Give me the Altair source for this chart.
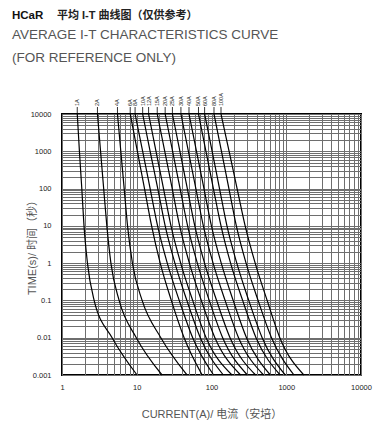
import altair as alt
import pandas as pd

TIMES = [10000, 1000, 100, 10, 1, 0.1, 0.01, 0.001]
RATINGS = ["1A", "2A", "4A", "6A", "8A", "10A", "12A", "15A",
           "20A", "25A", "30A", "40A", "50A", "60A", "80A", "100A"]
C_1A = [1.60, 1.71, 1.84, 1.97, 2.19, 2.69, 4.68, 10.1]
C_2A = [2.98, 3.28, 3.61, 3.98, 4.51, 5.81, 9.86, 21.8]
C_4A = [5.52, 6.12, 6.79, 7.53, 8.75, 11.8, 21.0, 47.0]
C_6A = [8.18, 10.2, 12.7, 15.8, 20.6, 29.0, 43.0, 75.0]
C_8A = [9.5, 12.0, 15.1, 19.0, 25.6, 37.0, 56.0, 106.7]
C_10A = [12.0, 15.1, 19.1, 24.0, 32.4, 46.8, 70.8, 144]
C_12A = [14.4, 18.1, 22.8, 28.7, 38.7, 56.0, 84.7, 188]
C_15A = [18.8, 23.7, 29.8, 37.5, 50.6, 73.1, 111, 245]
C_20A = [24.0, 30.2, 38.0, 47.9, 64.6, 93.3, 141, 302]
C_25A = [30.0, 37.8, 47.5, 59.8, 80.7, 117, 177, 389]
C_30A = [39.0, 49.1, 61.8, 77.8, 105, 152, 230, 497]
C_40A = [50.0, 63.0, 79.3, 99.8, 135, 195, 294, 613]
C_50A = [67.0, 84.3, 106, 134, 180, 261, 394, 830]
C_60A = [80.9, 102, 128, 161, 218, 315, 476, 970]
C_80A = [108, 136, 171, 215, 290, 420, 635, 1270]
C_100A = [134, 172, 220, 282, 384, 555, 820, 1720]
CURVES = [C_1A, C_2A, C_4A, C_6A, C_8A, C_10A, C_12A, C_15A,
          C_20A, C_25A, C_30A, C_40A, C_50A, C_60A, C_80A, C_100A]

X_DECADES = [1, 10, 100, 1000, 10000]
Y_DECADES = [0.001, 0.01, 0.1, 1, 10, 100, 1000, 10000]

rows = []
for r, cur in zip(RATINGS, CURVES):
    for t, c in zip(TIMES, cur):
        rows.append({"rating": r, "time": t, "current": c})
df = pd.DataFrame(rows)
tops = pd.DataFrame({"rating": RATINGS, "current": [c[0] for c in CURVES]})

x_grid = [m * d for d in X_DECADES[:-1] for m in range(1, 10)] + [X_DECADES[-1]]
y_grid = [m * d for d in Y_DECADES[:-1] for m in range(1, 10)] + [Y_DECADES[-1]]

LAT = "Liberation Sans"
CJK = "Liberation Sans, Noto Sans CJK SC"

xscale = alt.Scale(type="log", domain=[1, 10000])
yscale = alt.Scale(type="log", domain=[0.001, 10000])

x_axis = alt.Axis(values=x_grid, grid=True, ticks=False, domain=False,
                  labelExpr="indexof([1,10,100,1000,10000], datum.value) >= 0 ? datum.label : ''",
                  format="~g", labelFont=LAT, labelFontSize=7.5, labelColor="#222",
                  labelPadding=8, labelFlush=False, labelOverlap=False,
                  title="CURRENT(A)/ 电流（安培）", titleFont=CJK, titleFontSize=11,
                  titleFontWeight="normal", titleColor="#555",
                  titleX=149.5, titleY=39, titleBaseline="middle", titleAlign="center")
y_axis = alt.Axis(values=y_grid, grid=True, ticks=False, domain=False,
                  labelExpr="indexof([0.001,0.01,0.1,1,10,100,1000,10000], datum.value) >= 0 ? datum.label : ''",
                  format="~g", labelFont=LAT, labelFontSize=7.5, labelColor="#222",
                  labelPadding=11, labelFlush=False, labelOverlap=False,
                  title="TIME(s)/ 时间（秒）", titleFont=CJK, titleFontSize=11,
                  titleFontWeight="normal", titleColor="#555",
                  titleX=-30, titleY=130.5, titleBaseline="middle", titleAlign="center",
                  titleAngle=270)

lines = alt.Chart(df).mark_line(color="black", strokeWidth=1.2, interpolate="monotone").encode(
    x=alt.X("current:Q", scale=xscale, axis=x_axis),
    y=alt.Y("time:Q", scale=yscale, axis=y_axis),
    detail="rating:N",
    order=alt.Order("current:Q"),
)

leaders = alt.Chart(tops).mark_rule(color="black", strokeWidth=0.8, clip=False).encode(
    x=alt.X("current:Q", scale=xscale),
    y=alt.value(-7), y2=alt.value(0),
)
labels = alt.Chart(tops).mark_text(angle=270, align="left", baseline="middle",
                                   font=LAT, fontSize=5.5, color="#222").encode(
    x=alt.X("current:Q", scale=xscale),
    y=alt.value(-8),
    text="rating:N",
)

def txt(s, x, y, size, weight="normal", color="#444", font=CJK):
    return alt.Chart(pd.DataFrame({"t": [s]})).mark_text(
        align="left", baseline="alphabetic", font=font, fontSize=size,
        fontWeight=weight, color=color).encode(
        x=alt.value(x), y=alt.value(y), text="t:N")

t1 = txt("HCaR", -50, -95.5, 11.5, "bold", "#111", LAT)
t2 = txt("平均 I-T 曲线图（仅供参考）", -5, -95.5, 11, "bold", "#222")
t3 = txt("AVERAGE I-T CHARACTERISTICS CURVE", -50, -75.5, 13.5, "normal", "#555", LAT)
t4 = txt("(FOR REFERENCE ONLY)", -50, -52, 13.5, "normal", "#555", LAT)

chart = alt.layer(lines, leaders, labels, t1, t2, t3, t4).properties(
    width=299, height=261,
    autosize=alt.AutoSizeParams(type="none"),
    padding={"left": 54, "top": 106, "right": 13, "bottom": 45},
).configure_view(stroke="black", strokeWidth=2).configure_axis(
    gridColor="#6e6e6e", gridWidth=1, gridOpacity=1
)

chart.save("out.html", embed_options={"renderer": "svg", "actions": False})
